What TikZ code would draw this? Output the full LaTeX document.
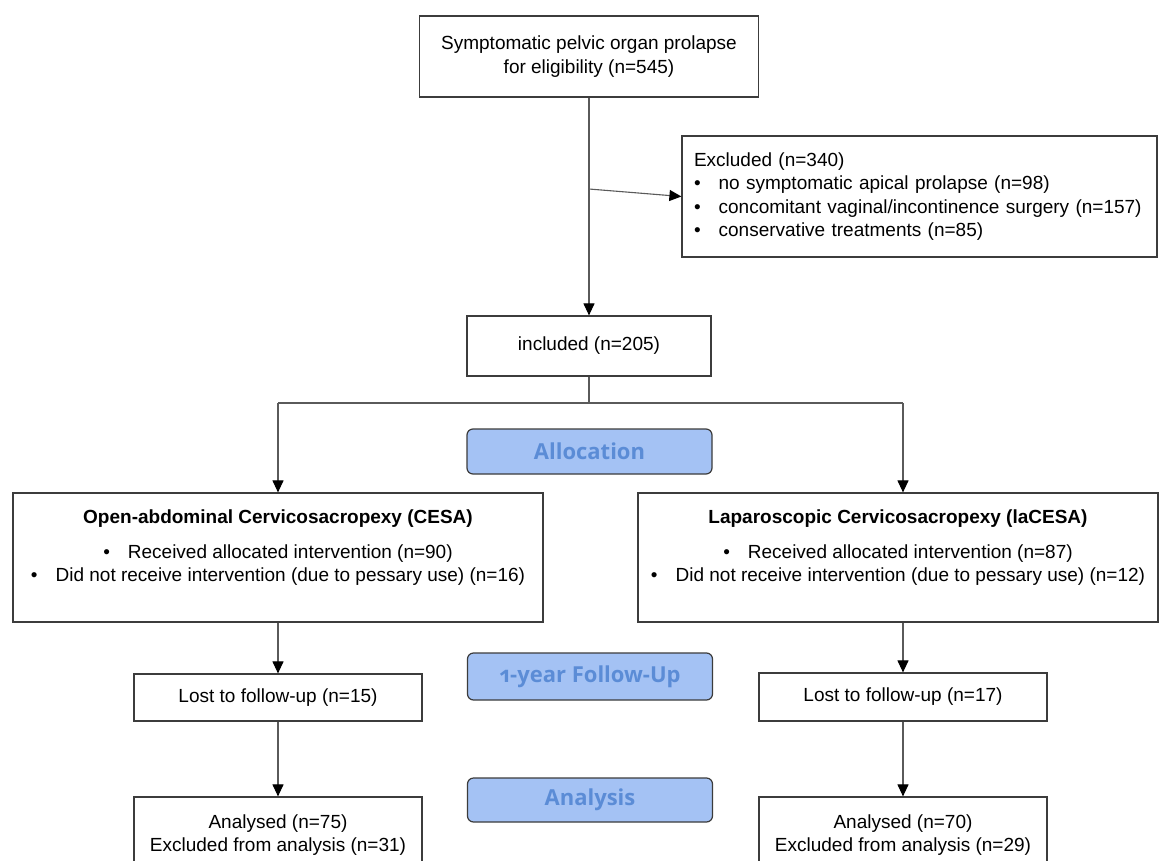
\documentclass[tikz,border=0pt]{standalone}
\usepackage{fontspec}
\setmainfont{Liberation Sans}
\newfontfamily\phasefont{Open Sans}[Numbers=OldStyle]
\usetikzlibrary{arrows.meta}
\definecolor{phasefill}{HTML}{A4C2F4}
\definecolor{phasetext}{HTML}{5B8CD6}
\definecolor{linegray}{HTML}{5A5A5A}
\definecolor{boxgray}{HTML}{3C3C3C}

\begin{document}
\begin{tikzpicture}
  [x=1pt,y=-1pt,every node/.style={draw=boxgray,line width=1.2pt,fill=white,inner sep=0pt,font=\fontsize{19}{23.4}\selectfont}]
  \tikzstyle{flow} = [draw=linegray,line width=1.1pt,-{Triangle[width=11pt,length=12pt,color=black]}]
  \tikzstyle{plain} = [draw=linegray,line width=1.1pt]
  \tikzstyle{phase} = [fill=phasefill,rounded corners=6pt,minimum width=245pt,minimum height=45pt,text=phasetext,font=\phasefont\bfseries\fontsize{22}{26}\selectfont]
  \useasboundingbox (0,0) rectangle (1160,860);
  \clip (0,0) rectangle (1160,860);
  \fill[white] (0,0) rectangle (1160,860);
  % enrolment
  \node[minimum width=339pt,minimum height=81pt,align=center] (elig) at (589,56.5) {Symptomatic pelvic organ prolapse\\for eligibility (n=545)};
  \node[minimum height=121pt,text width=451pt,inner xsep=12pt,align=left] (excl) at (919.5,196.5) {Excluded (n=340)\\
    \textbullet\hspace{18pt}no symptomatic apical prolapse (n=98)\\
    \textbullet\hspace{18pt}concomitant vaginal/incontinence surgery (n=157)\\
    \textbullet\hspace{18pt}conservative treatments (n=85)};
  \node[minimum width=244pt,minimum height=60pt] (incl) at (589,346) {included (n=205)};
  % phases
  \node[phase] (alloc) at (589.5,451.5) {Allocation};
  \node[phase,minimum height=47pt] (fup) at (590,676.5) {1-year Follow-Up};
  \node[phase,minimum height=44pt] (anal) at (590,800) {Analysis};
  % arms
  \node[minimum width=530pt,minimum height=129pt,align=center] (cesa) at (278,557.5) {\textbf{Open-abdominal Cervicosacropexy (CESA)}\\[11.6pt]
    \textbullet\hspace{18pt}Received allocated intervention (n=90)\\
    \textbullet\hspace{18pt}Did not receive intervention (due to pessary use) (n=16)\\ \mbox{}};
  \node[minimum width=520pt,minimum height=129pt,align=center] (lacesa) at (898,557.5) {\textbf{Laparoscopic Cervicosacropexy (laCESA)}\\[11.6pt]
    \textbullet\hspace{18pt}Received allocated intervention (n=87)\\
    \textbullet\hspace{18pt}Did not receive intervention (due to pessary use) (n=12)\\ \mbox{}};
  \node[minimum width=288pt,minimum height=47pt] (lostl) at (278,697.5) {Lost to follow-up (n=15)};
  \node[minimum width=288pt,minimum height=48pt] (lostr) at (903,697) {Lost to follow-up (n=17)};
  \node[minimum width=288pt,minimum height=76pt,align=center] (anl) at (278,835) {Analysed (n=75)\\Excluded from analysis (n=31)};
  \node[minimum width=288pt,minimum height=76pt,align=center] (anr) at (903,835) {Analysed (n=70)\\Excluded from analysis (n=29)};
  \coordinate (split) at (589,189);
  \coordinate (bl) at (278,403);
  \coordinate (br) at (903,403);
  \foreach \source/\dest in {elig/incl,cesa/lostl,lostl/anl,lostr/anr}
   \draw[flow] (\source) -- (\dest);
  \draw[flow] (split) -- (excl.west);
  \draw[plain] (incl.south) -- (incl.south |- bl);
  \draw[plain] (bl) -- (br);
  \draw[flow] (bl) -- (cesa.north);
  \draw[flow] (br) -- (br |- lacesa.north);
  \draw[flow] (lostr.north |- lacesa.south) -- (lostr.north);
\end{tikzpicture}
\end{document}
